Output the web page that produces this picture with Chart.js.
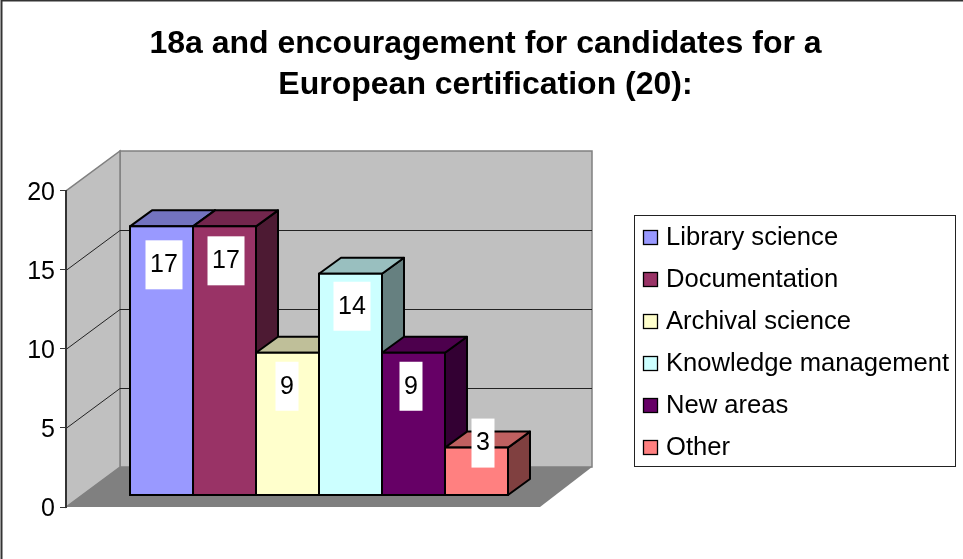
<!DOCTYPE html>
<html>
<head>
<meta charset="utf-8">
<script src="https://cdn.jsdelivr.net/npm/chart.js@4"></script>
<style>
html, body { margin: 0; padding: 0; background: #fff; }
canvas { display: block; }
</style>
</head>
<body>
<canvas id="myChart" width="963" height="559"></canvas>
<script>
// Values
const titulo = ['18a and encouragement for candidates for a', 'European certification (20):'];
const series = ['Library science', 'Documentation', 'Archival science', 'Knowledge management', 'New areas', 'Other'];
const valores = [17, 17, 9, 14, 9, 3];
const colores = ['#9999ff', '#993366', '#ffffcc', '#ccffff', '#660066', '#ff8080'];
const ticksY = [0, 5, 10, 15, 20];

// The data labels do not sit at a regular place in the original
const etiquetaDx = [2.5, 1.5, -0.5, 1.5, -2.5, 6.5];
const etiquetaDy = [14, 10, 9, 8, 9, -29];

const fuente = '"Liberation Sans", Arial, sans-serif';
const fondo = { dx: 54, dy: 40, ancho: 474, anchoAtras: 472 };   // depth of the box, floor and back wall widths
const prof = { dx: 22, dy: 16 };                // depth of each bar
const suelo = 0.76;                             // bars stand this many units above the axis zero

function oscurecer(hex, f) {
    const n = parseInt(hex.slice(1), 16);
    const c = [n >> 16, (n >> 8) & 255, n & 255].map(v => Math.round(v * f));
    return `rgb(${c[0]},${c[1]},${c[2]})`;
}

function poligono(ctx, puntos, relleno, linea, grosor) {
    ctx.beginPath();
    puntos.forEach((p, i) => i ? ctx.lineTo(p[0], p[1]) : ctx.moveTo(p[0], p[1]));
    ctx.closePath();
    if (relleno) { ctx.fillStyle = relleno; ctx.fill(); }
    if (linea) { ctx.strokeStyle = linea; ctx.lineWidth = grosor; ctx.stroke(); }
}

// Walls, floor and gridlines, behind everything else
const caja3d = {
    id: 'caja3d',
    beforeDraw(chart) {
        const ctx = chart.ctx;
        const y = chart.scales.y;
        const l = chart.chartArea.left;
        const b = y.getPixelForValue(0);
        const t = y.getPixelForValue(20);
        const r = l + fondo.ancho;
        const xa = l + fondo.dx;
        const xb = xa + fondo.anchoAtras;
        const dy = fondo.dy;
        ctx.save();
        ctx.fillStyle = '#fff';
        ctx.fillRect(0, 0, chart.width, chart.height);
        ctx.strokeStyle = '#333';
        ctx.lineWidth = 2;
        ctx.beginPath();
        ctx.moveTo(1.5, chart.height);
        ctx.lineTo(1.5, 0.5);
        ctx.lineTo(chart.width, 0.5);
        ctx.stroke();

        poligono(ctx, [[xa, t - dy], [xb, t - dy], [xb, b - dy], [xa, b - dy]], '#c0c0c0', '#808080', 1.5);
        poligono(ctx, [[l, t], [xa, t - dy], [xa, b - dy], [l, b]], '#c0c0c0', '#808080', 1.5);
        poligono(ctx, [[l, b], [xa, b - dy], [xb, b - dy], [r, b]], '#808080', null);

        ticksY.filter(v => v > 0 && v < 20).forEach(v => {
            const py = Math.round(y.getPixelForValue(v)) + 0.5;
            ctx.strokeStyle = '#222';
            ctx.lineWidth = 1;
            ctx.beginPath();
            ctx.moveTo(l, py);
            ctx.lineTo(xa, py - dy);
            ctx.lineTo(xb, py - dy);
            ctx.stroke();
        });
        ctx.restore();
    },
    // Tops and sides go under the fronts, which the library fills
    beforeDatasetDraw(chart, args) {
        const ctx = chart.ctx;
        ctx.save();
        ctx.lineJoin = 'round';
        args.meta.data.forEach((el, i) => {
            const c = colores[i];
            const x0 = el.x - el.width / 2, x1 = el.x + el.width / 2;
            poligono(ctx, [[x1, el.y], [x1 + prof.dx, el.y - prof.dy], [x1 + prof.dx, el.base - prof.dy], [x1, el.base]], oscurecer(c, 0.5), '#000', 2);
            poligono(ctx, [[x0, el.y], [x0 + prof.dx, el.y - prof.dy], [x1 + prof.dx, el.y - prof.dy], [x1, el.y]], oscurecer(c, 0.75), '#000', 2);
        });
        ctx.restore();
    },
    afterDatasetDraw(chart, args) {
        const ctx = chart.ctx;
        ctx.save();
        ctx.strokeStyle = '#000';
        ctx.lineWidth = 2;
        args.meta.data.forEach(el => {
            ctx.strokeRect(el.x - el.width / 2, el.y, el.width, el.base - el.y);
        });
        ctx.restore();
    },
    afterLayout(chart) {
        // the title is centred on the whole picture, a little right of the middle
        chart.titleBlock.left = 8;
        chart.titleBlock.right = chart.width;
    },
    afterDatasetsDraw(chart) {
        const ctx = chart.ctx;
        ctx.save();
        ctx.textBaseline = 'middle';
        ctx.textAlign = 'center';
        ctx.font = '25px ' + fuente;
        const barras = chart.getDatasetMeta(0).data;
        valores.forEach((v, i) => {
            const el = barras[i];
            const ancho = String(v).length > 1 ? 37 : 23;
            const cx = el.x + etiquetaDx[i];
            const top = el.y + etiquetaDy[i];
            ctx.fillStyle = '#fff';
            ctx.fillRect(cx - ancho / 2, top, ancho, 49);
            ctx.fillStyle = '#000';
            ctx.fillText(String(v), cx, top + 25);
        });

        // Legend box
        ctx.strokeStyle = '#222';
        ctx.lineWidth = 1;
        ctx.fillStyle = '#fff';
        ctx.fillRect(634.5, 215.5, 321, 251);
        ctx.strokeRect(634.5, 215.5, 321, 251);
        ctx.textAlign = 'left';
        ctx.font = '25.6px ' + fuente;
        series.forEach((nombre, i) => {
            const fila = 236 + i * 42;
            ctx.fillStyle = colores[i];
            ctx.fillRect(643.5, fila - 5.5, 14, 14);
            ctx.strokeStyle = '#000';
            ctx.lineWidth = 1.3;
            ctx.strokeRect(643.5, fila - 5.5, 14, 14);
            ctx.fillStyle = '#000';
            ctx.fillText(nombre, 666, fila + 2);
        });
        ctx.restore();
    }
};

const ctx = document.getElementById('myChart').getContext('2d');
const chart = new Chart(ctx, {
    type: 'bar',
    data: {
        datasets: [{
            label: '18a',
            data: valores.map((v, i) => ({ x: i, y: v })),
            backgroundColor: colores,
            borderWidth: 0,
            barPercentage: 1,
            categoryPercentage: 1,
            yAxisID: 'barras'
        }]
    },
    options: {
        responsive: false,
        animation: false,
        layout: { padding: { left: 0, right: 391, top: 0, bottom: 52 } },
        plugins: {
            legend: { display: false },
            tooltip: { enabled: false },
            title: {
                display: true,
                text: titulo,
                color: '#000',
                font: { family: fuente, size: 32, weight: 'bold', lineHeight: 1.28 },
                padding: { top: 24, bottom: 85 }
            }
        },
        scales: {
            x: {
                type: 'linear',
                display: false,
                offset: false,
                min: -1.516,
                max: 6.516
            },
            y: {
                min: 0,
                max: 20,
                afterFit(scale) { scale.width = 66; },
                afterBuildTicks(scale) { scale.ticks = ticksY.map(v => ({ value: v })); },
                grid: { drawOnChartArea: false, color: '#333', tickLength: 6 },
                border: { color: '#333', width: 2 },
                ticks: { color: '#000', padding: 5, labelOffset: 2, font: { family: fuente, size: 25 } }
            },
            barras: {
                display: false,
                min: -suelo,
                max: 20 - suelo
            }
        }
    },
    plugins: [caja3d]
});
</script>
</body>
</html>
